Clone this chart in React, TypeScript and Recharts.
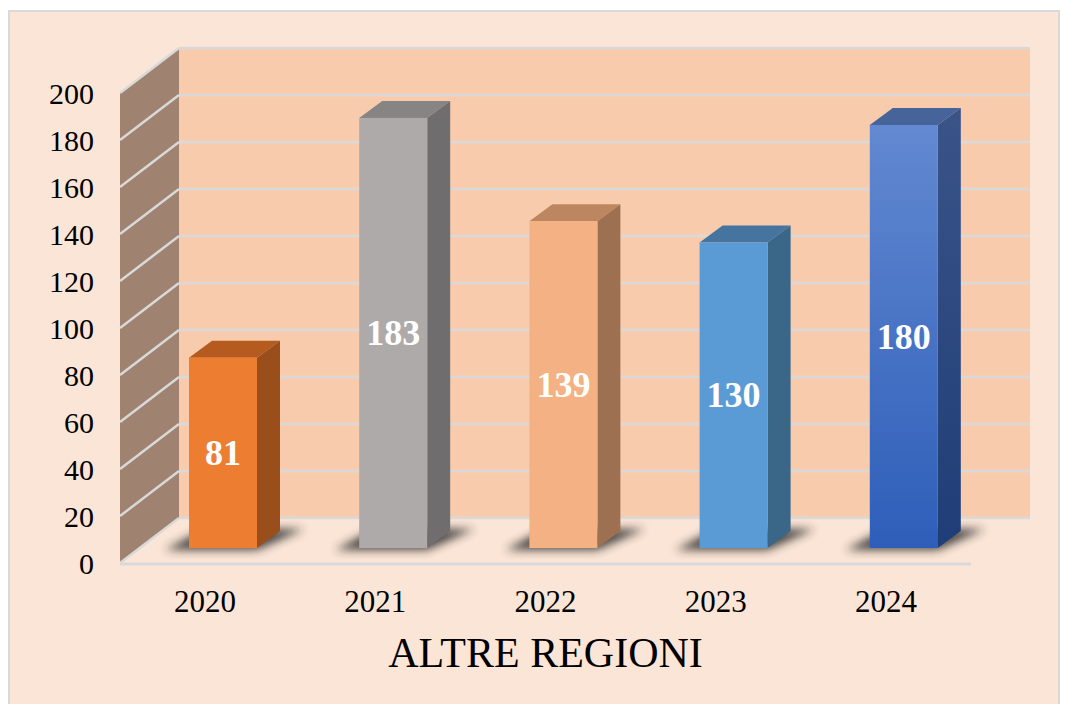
import React from 'react';
import { BarChart, Bar, XAxis, YAxis, ReferenceArea, ReferenceLine, LabelList, Label } from 'recharts';

const years = ['2020', '2021', '2022', '2023', '2024'];
const counts = [81, 183, 139, 130, 180];
const yTicks = [0, 20, 40, 60, 80, 100, 120, 140, 160, 180, 200];
const title = 'ALTRE REGIONI';

const data = years.map((year, i) => ({ year, value: counts[i] }));

// colours per bar: front, top, side
const faces = [
    { front: '#ED7D31', top: '#B55B20', side: '#9A4E1C' },
    { front: '#AEAAAA', top: '#878584', side: '#6F6D6D' },
    { front: '#F4B183', top: '#BC8760', side: '#9D7052' },
    { front: '#5B9BD5', top: '#45749F', side: '#3A6688' },
    { front: 'url(#front2024)', top: '#47649A', side: 'url(#side2024)' },
];

// depth of the chart box and of each bar
const DX = 59;
const DY = -45;
const BDX = 23;
const BDY = -17;
// bars sit a bit behind the front plane
const OFFX = 18;
const OFFY = -15;

const serif = '"Liberation Serif", "Times New Roman", serif';
const gridColor = '#D9D9D9';

const Walls = (props: any) => {
    const { x, y, width, height } = props;
    const bottom = y + height;
    return (
        <g>
            <defs>
                <filter id="shadowBlur" x="-50%" y="-100%" width="200%" height="300%">
                    <feGaussianBlur stdDeviation="5" />
                </filter>
                <linearGradient id="front2024" x1="0" y1="0" x2="0" y2="1">
                    <stop offset="0%" stopColor="#6289D1" />
                    <stop offset="100%" stopColor="#2E5EB9" />
                </linearGradient>
                <linearGradient id="side2024" x1="0" y1="0" x2="0" y2="1">
                    <stop offset="0%" stopColor="#3A5488" />
                    <stop offset="100%" stopColor="#1F3D77" />
                </linearGradient>
            </defs>
            <rect x={x + DX} y={y + DY} width={width} height={height} fill="#F8CBAD" />
            <polygon
                points={`${x},${y} ${x + DX},${y + DY} ${x + DX},${bottom + DY} ${x},${bottom}`}
                fill="#A08270"
            />
            <polygon
                points={`${x},${bottom} ${x + DX},${bottom + DY} ${x + width + DX},${bottom + DY} ${x + width},${bottom}`}
                fill="#FBE5D6"
            />
            <line x1={x} y1={bottom + 1} x2={x + width} y2={bottom + 1} stroke={gridColor} strokeWidth={3} />
        </g>
    );
};

const GridLine = (props: any) => {
    const { x1, y1, x2 } = props;
    const left = Math.min(x1, x2);
    const right = Math.max(x1, x2);
    return (
        <g>
            <line x1={left} y1={y1} x2={left + DX} y2={y1 + DY} stroke={gridColor} strokeWidth={2.5} />
            <line x1={left + DX} y1={y1 + DY} x2={right + DX} y2={y1 + DY} stroke={gridColor} strokeWidth={2.5} />
        </g>
    );
};

const Bar3D = (props: any) => {
    const { x, y, width, height, index } = props;
    const c = faces[index];
    const fx = x + OFFX;
    const fy = y + OFFY;
    const fb = fy + height;
    return (
        <g>
            <polygon
                points={`${fx - 24},${fb + 2} ${fx + width},${fb + 2} ${fx + width + BDX + 24},${fb + BDY - 2} ${fx + BDX - 8},${fb + BDY - 2}`}
                fill="#2a2a2a"
                opacity={0.85}
                filter="url(#shadowBlur)"
            />
            <polygon
                points={`${fx},${fy} ${fx + BDX},${fy + BDY} ${fx + width + BDX},${fy + BDY} ${fx + width},${fy}`}
                fill={c.top}
            />
            <polygon
                points={`${fx + width},${fy} ${fx + width + BDX},${fy + BDY} ${fx + width + BDX},${fb + BDY} ${fx + width},${fb}`}
                fill={c.side}
            />
            <rect x={fx} y={fy} width={width} height={height} fill={c.front} />
        </g>
    );
};

const ValueLabel = (props: any) => {
    const { x, y, width, height, value } = props;
    return (
        <text
            x={x + width / 2 + OFFX}
            y={y + height / 2 + OFFY}
            textAnchor="middle"
            dominantBaseline="central"
            fill="#FFFFFF"
            fontFamily={serif}
            fontWeight="bold"
            fontSize={36}
        >
            {value}
        </text>
    );
};

export default function App() {
    return (
        <div
            style={{
                width: 1052,
                height: 700,
                marginTop: 2,
                border: `2px solid ${gridColor}`,
                boxSizing: 'border-box',
                background: '#FBE5D6',
            }}
        >
            <BarChart width={1048} height={680} data={data} margin={{ top: 81, right: 87, bottom: 19, left: 0 }}>
                <ReferenceArea y1={0} y2={200} ifOverflow="visible" shape={Walls} zIndex={0} />
                {yTicks.map((t) => (
                    <ReferenceLine key={t} y={t} ifOverflow="visible" shape={GridLine} zIndex={50} />
                ))}
                <XAxis
                    dataKey="year"
                    axisLine={false}
                    tickLine={false}
                    tickSize={0}
                    tickMargin={27}
                    height={110}
                    tick={{ fill: '#000000', fontFamily: serif, fontSize: 31 }}
                >
                    <Label
                        value={title}
                        position="insideBottom"
                        offset={6}
                        style={{ fill: '#000000', fontFamily: serif, fontSize: 42 }}
                    />
                </XAxis>
                <YAxis
                    width={110}
                    domain={[0, 200]}
                    ticks={yTicks}
                    interval={0}
                    axisLine={false}
                    tickLine={false}
                    tickSize={0}
                    tickMargin={26}
                    tick={{ fill: '#000000', fontFamily: serif, fontSize: 30 }}
                />
                <Bar dataKey="value" barSize={68} shape={Bar3D} isAnimationActive={false}>
                    <LabelList dataKey="value" content={ValueLabel} />
                </Bar>
            </BarChart>
        </div>
    );
}
